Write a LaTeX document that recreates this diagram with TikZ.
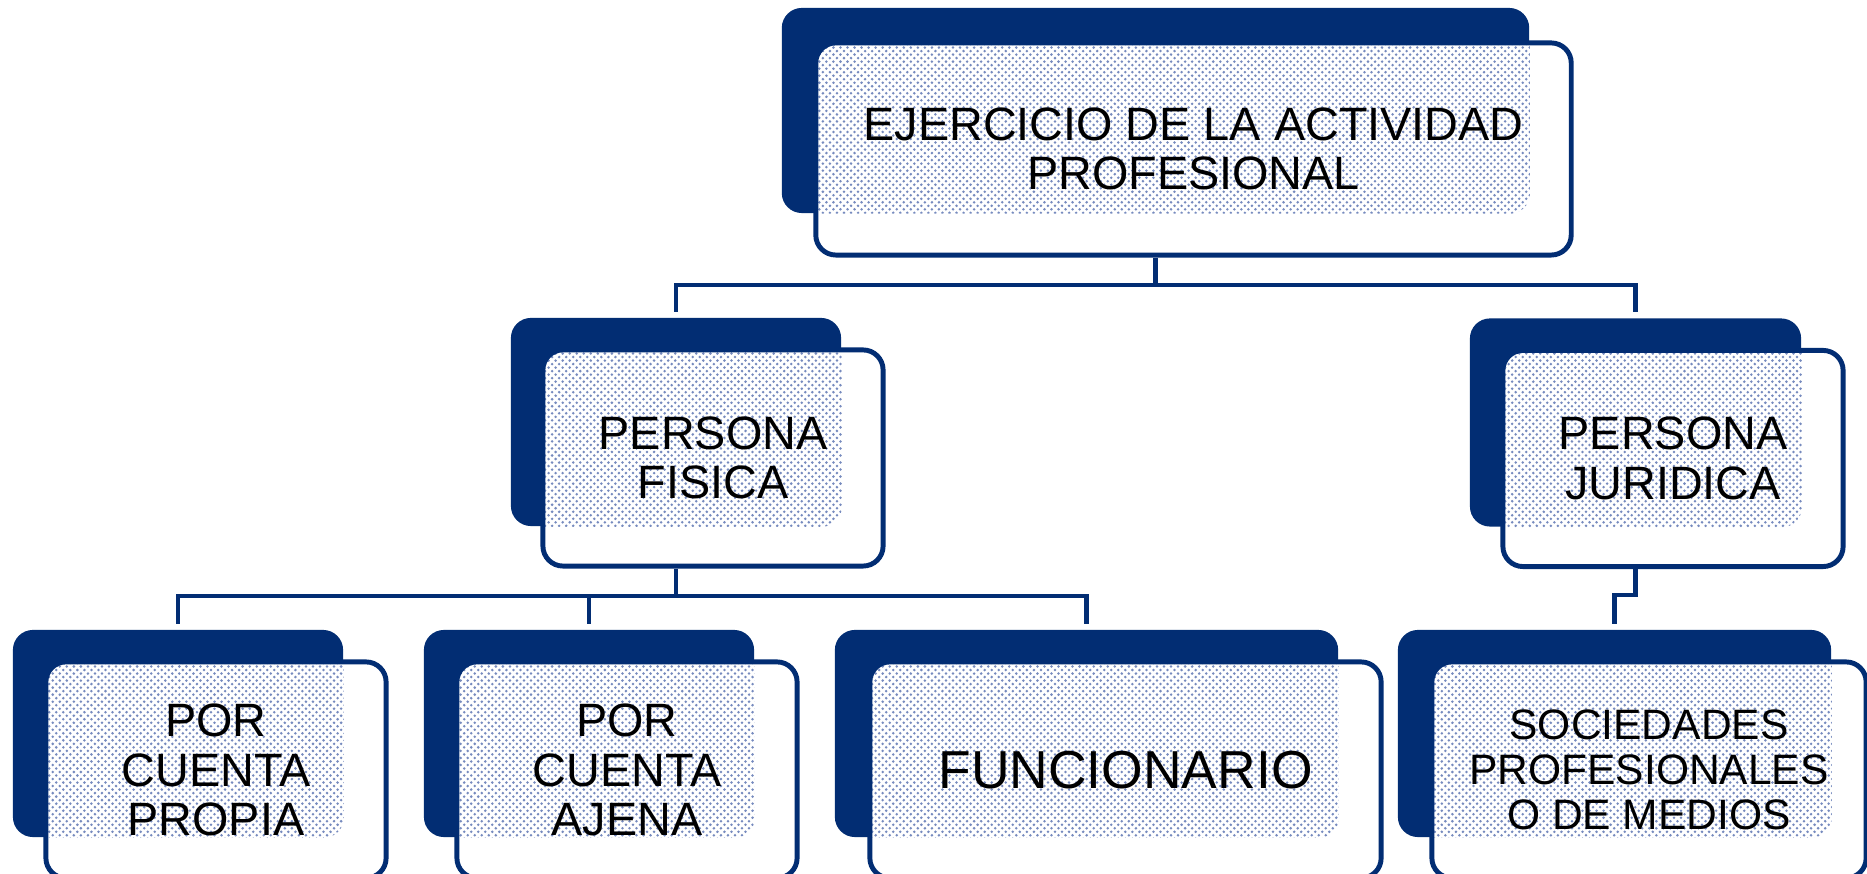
\documentclass[tikz,border=0pt]{standalone}
\usepackage{fontspec}
\setmainfont{Liberation Sans}
\usetikzlibrary{patterns}

\definecolor{navyblue}{RGB}{2,45,115}
\definecolor{dotblue}{RGB}{118,138,190}

\pgfdeclarepatternformonly{finedots}{\pgfqpoint{-0.5pt}{-0.5pt}}{\pgfqpoint{1.5pt}{1.5pt}}{\pgfqpoint{2pt}{2pt}}{%
  \pgfpathcircle{\pgfqpoint{0pt}{0pt}}{0.4pt}
  \pgfpathcircle{\pgfqpoint{1pt}{1pt}}{0.4pt}
  \pgfusepath{fill}}

\tikzset{
  backbox/.style={fill=navyblue, rounded corners=0.2cm, inner sep=0pt, minimum height=2.07cm},
  frontbox/.style={draw=navyblue, line width=1.4pt, fill=white, rounded corners=0.2cm,
    inner sep=0pt, minimum height=2.16cm, align=center, font=\fontsize{13.3}{14}\selectfont,
    path picture={
      \clip[rounded corners=0.2cm] (#1.south west) rectangle (#1.north east);
      \fill[pattern=finedots, pattern color=dotblue]
        (path picture bounding box.south west) rectangle (path picture bounding box.north east);
    }},
  conn/.style={draw=navyblue, line width=1.4pt, shorten >=1.6pt}
}

\begin{document}
\begin{tikzpicture}[x=0.01cm, y=-0.01cm]
    \useasboundingbox (0,0) rectangle (1867,874);

    % top
    \node[backbox, minimum width=7.47cm, minimum height=2.05cm] (ej-b) at (1155.5,110.5) {};
    \node[frontbox=ej-b, minimum width=7.55cm, minimum height=2.12cm] (ej) at (1193.5,149)
      {EJERCICIO DE LA ACTIVIDAD\\PROFESIONAL};

    % second row
    \node[backbox, minimum width=3.30cm, minimum height=2.08cm] (fis-b) at (676,422) {};
    \node[frontbox=fis-b, minimum width=3.40cm] (fis) at (713,458) {PERSONA\\FISICA};
    \node[backbox, minimum width=3.31cm, minimum height=2.08cm] (jur-b) at (1635.5,422.5) {};
    \node[frontbox=jur-b, minimum width=3.40cm] (jur) at (1673,458.5) {PERSONA\\JURIDICA};

    % third row
    \node[backbox, minimum width=3.30cm] (pro-b) at (178,733.5) {};
    \node[frontbox=pro-b, minimum width=3.40cm] (pro) at (216,770) {POR\\CUENTA\\PROPIA};
    \node[backbox, minimum width=3.30cm] (aje-b) at (589,733.5) {};
    \node[frontbox=aje-b, minimum width=3.40cm] (aje) at (627,770) {POR\\CUENTA\\AJENA};
    \node[backbox, minimum width=5.03cm] (fun-b) at (1086.5,733.5) {};
    \node[frontbox=fun-b, minimum width=5.11cm, font=\fontsize{15.2}{16}\selectfont] (fun) at (1125.5,770)
      {FUNCIONARIO};
    \node[backbox, minimum width=4.33cm] (soc-b) at (1614.5,733.5) {};
    \node[frontbox=soc-b, minimum width=4.34cm, font=\fontsize{12.1}{12.8}\selectfont] (soc) at (1649,770)
      {SOCIEDADES\\PROFESIONALES\\O DE MEDIOS};

    % connectors
    \coordinate (top-bus) at (0,285);
    \coordinate (fis-bus) at (0,596);
    \coordinate (jur-bus) at (0,595);
    \draw[conn] (ej.south -| ej-b.center) -- (ej-b.center |- top-bus) -| (fis-b.north);
    \draw[conn] (ej-b.center |- top-bus) -| (jur-b.north);
    \draw[conn] (fis.south -| fis-b.center) -- (fis-b.center |- fis-bus) -| (pro-b.north);
    \draw[conn] (fis-b.center |- fis-bus) -| (aje-b.north);
    \draw[conn] (fis-b.center |- fis-bus) -| (fun-b.north);
    \draw[conn] (jur.south -| jur-b.center) -- (jur-b.center |- jur-bus) -| (soc-b.north);
\end{tikzpicture}
\end{document}
